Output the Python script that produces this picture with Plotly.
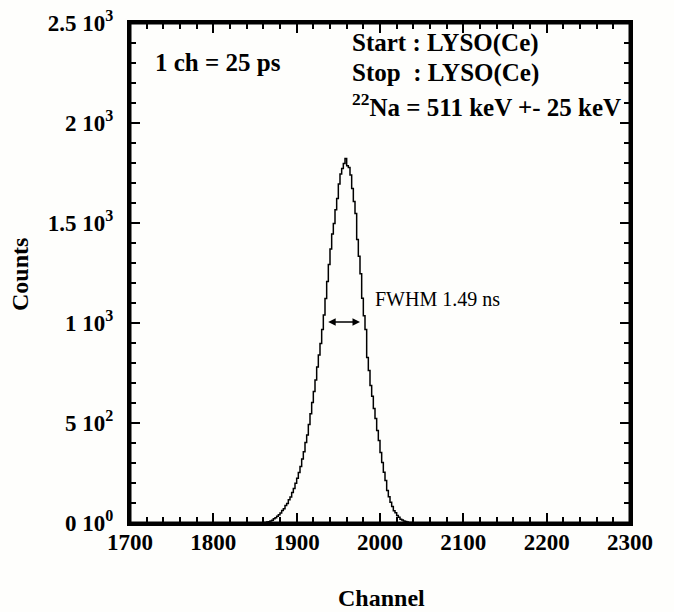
import plotly.graph_objects as go

# ---- data ----
channels = list(range(1850, 2048, 2))
counts = [0, 0, 0, 0, 1, 2, 3, 5, 6, 10,
          14, 21, 26, 34, 41, 50, 63, 71, 87, 97,
          116, 130, 153, 173, 199, 224, 252, 283, 320, 356,
          402, 440, 492, 546, 603, 657, 715, 780, 840, 898,
          968, 1040, 1122, 1208, 1292, 1370, 1445, 1498, 1566, 1622,
          1695, 1745, 1772, 1798, 1822, 1786, 1778, 1740, 1672, 1608,
          1548, 1418, 1334, 1246, 1124, 1036, 968, 828, 762, 688,
          634, 572, 522, 463, 412, 353, 302, 254, 212, 163,
          131, 104, 83, 61, 51, 37, 29, 19, 15, 10,
          7, 5, 3, 2, 1, 0, 0, 0, 0]

x_tickvals = [1700, 1800, 1900, 2000, 2100, 2200, 2300]
x_ticktext = ["1700", "1800", "1900", "2000", "2100", "2200", "2300"]
y_tickvals = [0, 500, 1000, 1500, 2000, 2500]
y_ticktext = ["0 10<sup>0</sup>", "5 10<sup>2</sup>", "1 10<sup>3</sup>",
              "1.5 10<sup>3</sup>", "2 10<sup>3</sup>", "2.5 10<sup>3</sup>"]

fwhm_from, fwhm_to, fwhm_level = 1936, 1976, 1005

SERIF = "Liberation Serif, Times New Roman, serif"

fig = go.Figure()
fig.add_trace(go.Scatter(x=channels, y=counts, mode="lines",
                         line=dict(color="black", width=1.5, shape="hv"),
                         hoverinfo="skip", showlegend=False))
# invisible trace to activate a top x axis carrying the mirrored ticks
fig.add_trace(go.Scatter(x=[x_tickvals[0]], y=[y_tickvals[0]], xaxis="x2", mode="markers",
                         marker=dict(opacity=0), hoverinfo="skip", showlegend=False))

axis_common = dict(showline=True, linewidth=3, linecolor="black", mirror="ticks",
                   ticks="inside", ticklen=10, tickwidth=2, tickcolor="black",
                   showgrid=False, zeroline=False, automargin=False, ticklabeloverflow="allow",
                   tickfont=dict(family=SERIF, size=23, color="black", weight="bold"))

fig.update_xaxes(range=[1700, 2300], tickmode="array", tickvals=x_tickvals, ticktext=x_ticktext,
                 minor=dict(ticks="inside", dtick=20, tick0=1700, ticklen=6, tickwidth=2, tickcolor="black"),
                 ticklabelstandoff=-4, **axis_common)
fig.update_yaxes(range=[0, 2500], tickmode="array", tickvals=y_tickvals, ticktext=y_ticktext,
                 minor=dict(ticks="inside", dtick=100, tick0=0, ticklen=6, tickwidth=2, tickcolor="black"),
                 ticklabelstandoff=9, **axis_common)
fig.update_layout(xaxis2=dict(overlaying="x", side="top", range=[1700, 2300], tickmode="array",
                              tickvals=x_tickvals, showticklabels=False, showline=True, linewidth=3,
                              linecolor="black", ticks="inside", ticklen=10, tickwidth=2,
                              tickcolor="black", showgrid=False, zeroline=False, automargin=False,
                              minor=dict(ticks="inside", dtick=20, tick0=1700, ticklen=6,
                                         tickwidth=2, tickcolor="black")))

bold = dict(family=SERIF, size=25, color="black", weight="bold")
ann = [
    dict(text="1 ch = 25 ps", x=0.046, y=0.92, xanchor="left", yanchor="middle", font=bold),
    dict(text="Start : LYSO(Ce)", x=0.44, y=0.96, xanchor="left", yanchor="middle", font=bold),
    dict(text="Stop\u00a0 : LYSO(Ce)", x=0.44, y=0.9, xanchor="left", yanchor="middle", font=bold),
    dict(text="<sup>22</sup>Na = 511 keV +- 25 keV", x=0.44, y=0.837, xanchor="left", yanchor="middle", font=bold),
    dict(text="FWHM 1.49 ns", x=0.486, y=0.448, xanchor="left", yanchor="middle",
         font=dict(family=SERIF, size=20, color="black")),
    dict(text="Channel", x=0.502, y=-0.15, xanchor="center", yanchor="middle",
         font=dict(family=SERIF, size=24, color="black", weight="bold")),
    dict(text="Counts", x=-0.22, y=0.496, xanchor="center", yanchor="middle", textangle=-90,
         font=dict(family=SERIF, size=24, color="black", weight="bold")),
]
for a in ann:
    fig.add_annotation(xref="paper", yref="paper", showarrow=False, **a)

fig.add_annotation(x=fwhm_to, y=fwhm_level, ax=fwhm_from, ay=fwhm_level,
                   xref="x", yref="y", axref="x", ayref="y", text="",
                   showarrow=True, arrowhead=2, startarrowhead=2, arrowside="end+start",
                   arrowwidth=1.5, arrowsize=1, startarrowsize=1, arrowcolor="black",
                   standoff=0, startstandoff=0)

# frame around the plot area
fig.add_shape(type="rect", xref="paper", yref="paper", x0=0, y0=0, x1=1, y1=1,
              line=dict(color="black", width=3), layer="above")

fig.update_layout(width=674, height=612, margin=dict(l=130, r=44, t=23, b=89),
                  paper_bgcolor="#fefefc", plot_bgcolor="#fefefc")

fig.write_html("out.html", config={"displayModeBar": False},
               post_script="document.body.style.margin='0';document.body.style.background='#fefefc';")
